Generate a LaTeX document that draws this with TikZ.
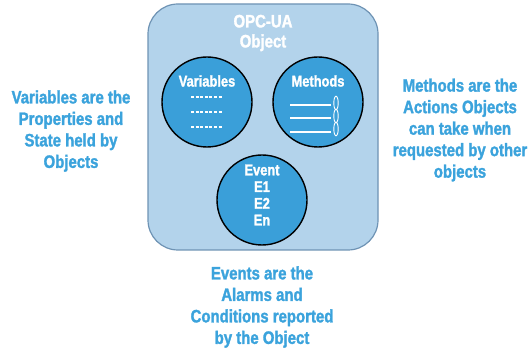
\documentclass[tikz,border=0pt]{standalone}
\usepackage{fontspec}
\setmainfont{Liberation Sans}[UprightFont={* Bold}, FakeStretch=0.83, FakeBold=1.6]
\usepackage{tikz}
\usetikzlibrary{positioning,calc}
\usepackage{xcolor}
\definecolor{boxfill}{HTML}{B3D3EB}
\definecolor{boxline}{HTML}{6E93B4}
\definecolor{ballfill}{HTML}{3A9FD9}
\definecolor{note}{HTML}{3BA3DC}

\tikzset{
    ball/.style={circle, draw=black, line width=1.4pt, fill=ballfill, minimum size=90pt, inner sep=0pt},
    balltext/.style={text=white, font=\fontsize{15.5}{16.7}\selectfont, align=center},
    notetext/.style={text=note, font=\fontsize{18}{21.5}\selectfont, align=center},
    whiteline/.style={draw=white, line width=1.1pt}
}

\begin{document}
\begin{tikzpicture}[x=1pt,y=-1pt]
    \useasboundingbox (0,0) rectangle (532,352);
    % 外框: OPC-UA 对象
    \draw[fill=boxfill, draw=boxline, line width=1.2pt, rounded corners=30pt] (148,4) rectangle (378,250);
    \node[text=white, font=\fontsize{18}{20}\selectfont, align=center] (title) at (263,33) {OPC-UA\\Object};
    % 三个圆
    \node[ball] (var) at (207,102) {};
    \node[ball] (met) at (318,102) {};
    \node[ball] (evt) at (262,200) {};
    % Variables
    \node[balltext] (vartitle) at (207,81) {Variables};
    \foreach \y in {97,112,127} {
        \draw[whiteline, dash pattern=on 3pt off 1.6pt] (191,\y) -- (223,\y);
    }
    % Methods
    \node[balltext] (mettitle) at (318,81) {Methods};
    \foreach \y in {105,118,132} {
        \draw[whiteline] (290,\y) -- (331,\y);
    }
    \foreach \y in {103,116,129} {
        \draw[white, line width=0.9pt] (336,\y) ellipse (2.2pt and 6.8pt);
    }
    % Event
    \node[balltext] (evttext) at (262,195) {Event\\E1\\E2\\En};
    % 说明文字
    \node[notetext] (varnote) at (71,131) {Variables are the\\Properties and\\State held by\\Objects};
    \node[notetext] (metnote) at (460,130) {Methods are the\\Actions Objects\\can take when\\requested by other\\objects};
    \node[notetext] (evtnote) at (262,307) {Events are the\\Alarms and\\Conditions reported\\by the Object};
\end{tikzpicture}
\end{document}
